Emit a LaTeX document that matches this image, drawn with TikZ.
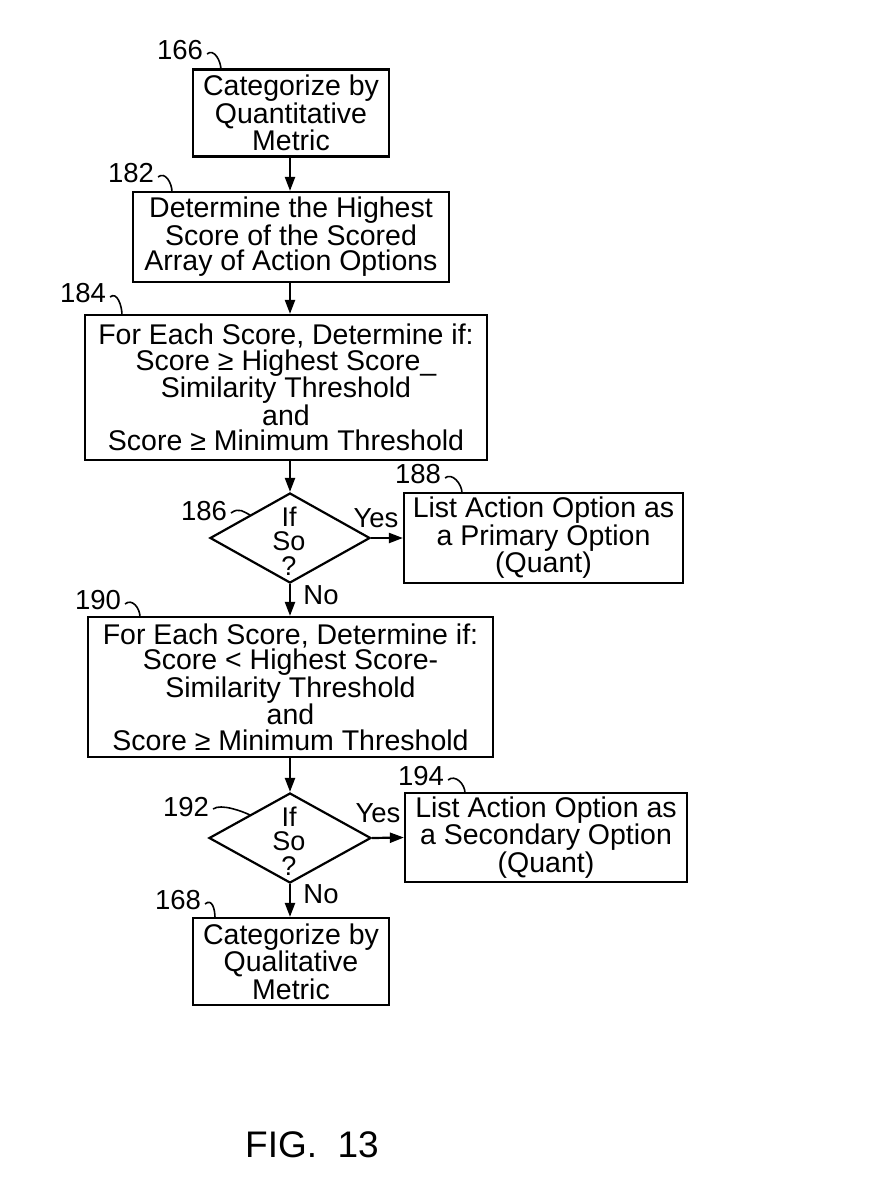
\documentclass[tikz,border=0pt]{standalone}
\usepackage{fontspec}
\setmainfont{Liberation Sans}
\usetikzlibrary{shapes.geometric,arrows.meta,calc}
\begin{document}
\begin{tikzpicture}[x=1pt,y=-1pt,
  line width=2.2pt,
  every node/.style={inner sep=0pt},
  boxtext/.style={font=\fontsize{28.5}{25.5}\selectfont},
  box/.style={draw, rectangle, align=center, boxtext},
  dia/.style={draw, diamond, minimum width=160pt, minimum height=90pt},
  diatext/.style={font=\fontsize{27}{24.5}\selectfont, align=center},
  lab/.style={font=\fontsize{27.5}{27.5}\selectfont},
  flow/.style={-{Triangle[length=14pt,width=10pt]}},
  lead/.style={line width=1.6pt}
]
\useasboundingbox (0,0) rectangle (868,1186);

% boxes
\node[box, minimum width=196pt, minimum height=87pt] (n166) at (291,113) {Categorize by\\Quantitative\\Metric};
\node[box, minimum width=316pt, minimum height=90pt] (n182) at (291,237) {Determine the Highest\\Score of the Scored\\Array of Action Options};
\node[box, minimum width=402pt, minimum height=145pt] (n184) at (286,387.5) {For Each Score, Determine if:\\Score ≥ Highest Score\_\\Similarity Threshold\\and\\Score ≥ Minimum Threshold};
\node[dia] (n186) at (290,538) {};
\node[diatext] (t186) at (289,541) {If\\So\\?};
\node[box, minimum width=279pt, minimum height=90pt] (n188) at (543.5,538) {List Action Option as\\a Primary Option\\(Quant)};
\node[box, minimum width=405pt, minimum height=140pt] (n190) at (290.5,687) {For Each Score, Determine if:\\Score < Highest Score-\\Similarity Threshold\\and\\Score ≥ Minimum Threshold};
\node[dia, minimum width=162pt] (n192) at (290,838) {};
\node[diatext] (t192) at (289,841) {If\\So\\?};
\node[box, minimum width=282pt, minimum height=89pt] (n194) at (546,837.5) {List Action Option as\\a Secondary Option\\(Quant)};
\node[box, minimum width=196pt, minimum height=87pt] (n168) at (291,961.5) {Categorize by\\Qualitative\\Metric};

% flow arrows
\draw[flow] (n166.south -| 290,0) -- (n182.north -| 290,0);
\draw[flow] (n182.south -| 290,0) -- (n184.north -| 290,0);
\draw[flow] (n184.south -| n186.north) -- (n186.north);
\draw[flow] (n186.east) -- (n188.west);
\draw[flow] (n186.south) -- (n190.north -| n186.south);
\draw[flow] (n190.south -| n192.north) -- (n192.north);
\draw[flow] (n192.east) -- (n194.west);
\draw[flow] (n192.south) -- (n168.north -| n192.south);

% Yes / No
\node[lab] (y186) at (376,518) {Yes};
\node[lab] (no186) at (321,595) {No};
\node[lab] (y192) at (378,813) {Yes};
\node[lab] (no192) at (321,894) {No};

% reference numerals
\node[lab] (l166) at (180,50) {166};
\node[lab] (l182) at (131,173) {182};
\node[lab] (l184) at (83,293) {184};
\node[lab] (l186) at (204,511) {186};
\node[lab] (l188) at (418,474) {188};
\node[lab] (l190) at (98,600) {190};
\node[lab] (l192) at (186,807) {192};
\node[lab] (l194) at (421,776) {194};
\node[lab] (l168) at (178,900) {168};

\coordinate (c166) at (221,70);
\coordinate (c182) at (172,192);
\coordinate (c184) at (122,315);
\coordinate (c186) at (250,515);
\coordinate (c188) at (462,493);
\coordinate (c190) at (140,617);
\coordinate (c192) at (250,815);
\coordinate (c194) at (465,793);
\coordinate (c168) at (215,918);

\foreach \n in {166,182,184,188,190,194,168}{
  \draw[lead] ($(l\n.east)+(3,4)$) .. controls +(7,-6) and +(0,-9) .. (c\n);
}
\foreach \n in {186,192}{
  \draw[lead] ($(l\n.east)+(3,2)$) .. controls +(8,-6) and +(-6,-3) .. (c\n);
}

% figure label
\node[font=\fontsize{37}{37}\selectfont] (fig) at (312,1145) {FIG.\ \ 13};
\end{tikzpicture}
\end{document}
